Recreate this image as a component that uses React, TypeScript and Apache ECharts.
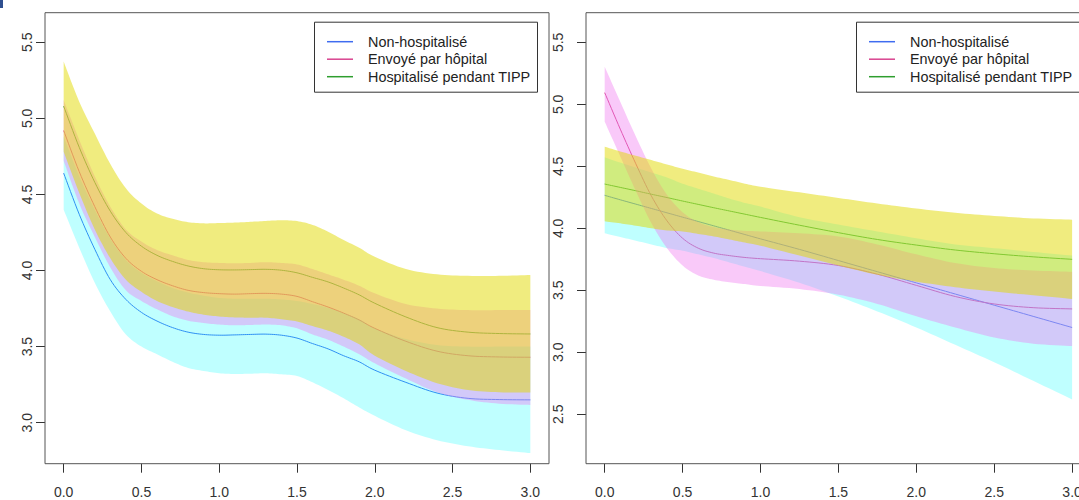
import React, { useEffect, useRef } from 'react';
import * as echarts from 'echarts';

// ---------- tick labels ----------
const xTicks = [0, 0.5, 1, 1.5, 2, 2.5, 3];
const leftYTicks = [3, 3.5, 4, 4.5, 5, 5.5];
const rightYTicks = [2.5, 3, 3.5, 4, 4.5, 5, 5.5];

const legendLabels = ['Non-hospitalisé', 'Envoyé par hôpital', 'Hospitalisé pendant TIPP'];

// ---------- left panel ----------
const leftT = [0, 0.1, 0.2, 0.3, 0.4, 0.5, 0.6, 0.7, 0.8, 0.9, 1.0, 1.1, 1.2, 1.3, 1.4, 1.5, 1.6, 1.7, 1.8, 1.9, 2.0, 2.2, 2.4, 2.6, 2.8, 3.0];

const leftNonHosp = [4.64, 4.37, 4.14, 3.94, 3.81, 3.725, 3.668, 3.625, 3.595, 3.58, 3.575, 3.577, 3.58, 3.582, 3.575, 3.556, 3.52, 3.485, 3.44, 3.40, 3.345, 3.265, 3.195, 3.16, 3.152, 3.15];
const leftNonHospLo = [4.40, 4.15, 3.92, 3.73, 3.58, 3.50, 3.45, 3.40, 3.36, 3.34, 3.325, 3.32, 3.322, 3.325, 3.318, 3.307, 3.265, 3.215, 3.16, 3.10, 3.045, 2.95, 2.885, 2.845, 2.82, 2.80];
const leftNonHospHi = [4.88, 4.62, 4.40, 4.21, 4.07, 3.985, 3.93, 3.885, 3.855, 3.835, 3.82, 3.815, 3.815, 3.815, 3.81, 3.80, 3.78, 3.755, 3.72, 3.68, 3.62, 3.55, 3.51, 3.50, 3.50, 3.50];

const leftSent = [4.92, 4.65, 4.42, 4.22, 4.08, 3.995, 3.94, 3.90, 3.87, 3.855, 3.848, 3.845, 3.848, 3.85, 3.845, 3.83, 3.795, 3.76, 3.72, 3.675, 3.62, 3.535, 3.47, 3.44, 3.432, 3.43];
const leftSentLo = [4.72, 4.44, 4.22, 4.02, 3.87, 3.80, 3.745, 3.70, 3.67, 3.655, 3.645, 3.64, 3.642, 3.645, 3.64, 3.62, 3.58, 3.545, 3.50, 3.45, 3.39, 3.29, 3.20, 3.15, 3.125, 3.117];
const leftSentHi = [5.12, 4.86, 4.62, 4.42, 4.27, 4.19, 4.135, 4.10, 4.07, 4.055, 4.05, 4.048, 4.05, 4.055, 4.05, 4.04, 4.01, 3.975, 3.94, 3.90, 3.85, 3.78, 3.75, 3.74, 3.74, 3.741];

const leftHosp = [5.08, 4.81, 4.58, 4.39, 4.25, 4.16, 4.10, 4.06, 4.03, 4.012, 4.005, 4.004, 4.006, 4.008, 4.002, 3.985, 3.955, 3.925, 3.885, 3.84, 3.785, 3.695, 3.625, 3.595, 3.586, 3.583];
const leftHospLo = [4.78, 4.51, 4.27, 4.08, 3.94, 3.86, 3.80, 3.76, 3.73, 3.71, 3.698, 3.692, 3.69, 3.69, 3.68, 3.665, 3.635, 3.605, 3.565, 3.515, 3.44, 3.34, 3.26, 3.215, 3.20, 3.198];
const leftHospHi = [5.373, 5.11, 4.90, 4.70, 4.54, 4.44, 4.375, 4.34, 4.318, 4.31, 4.312, 4.315, 4.32, 4.326, 4.33, 4.325, 4.30, 4.255, 4.20, 4.15, 4.09, 4.01, 3.975, 3.965, 3.965, 3.971];

// ---------- right panel ----------
const rightT = [0, 0.1, 0.2, 0.3, 0.4, 0.5, 0.6, 0.7, 0.8, 0.9, 1.0, 1.25, 1.5, 1.75, 2.0, 2.25, 2.5, 2.75, 3.0];

const rightNonHosp = [4.266, 4.23, 4.195, 4.16, 4.125, 4.09, 4.055, 4.02, 3.985, 3.95, 3.915, 3.83, 3.74, 3.65, 3.56, 3.47, 3.38, 3.29, 3.20];
const rightNonHospLo = [3.96, 3.93, 3.90, 3.87, 3.84, 3.82, 3.79, 3.76, 3.725, 3.69, 3.655, 3.56, 3.45, 3.33, 3.20, 3.06, 2.92, 2.77, 2.62];
const rightNonHospHi = [4.573, 4.53, 4.49, 4.45, 4.41, 4.36, 4.32, 4.28, 4.24, 4.205, 4.175, 4.09, 4.03, 3.975, 3.92, 3.87, 3.84, 3.81, 3.78];

const rightSent = [5.094, 4.80, 4.52, 4.26, 4.06, 3.92, 3.84, 3.80, 3.78, 3.765, 3.755, 3.735, 3.70, 3.63, 3.54, 3.45, 3.39, 3.36, 3.35];
const rightSentLo = [4.86, 4.58, 4.30, 4.04, 3.84, 3.70, 3.62, 3.585, 3.565, 3.55, 3.535, 3.51, 3.465, 3.39, 3.29, 3.20, 3.12, 3.07, 3.05];
const rightSentHi = [5.303, 5.02, 4.74, 4.48, 4.27, 4.13, 4.05, 4.01, 3.99, 3.98, 3.975, 3.96, 3.935, 3.87, 3.79, 3.72, 3.68, 3.66, 3.65];

const rightHosp = [4.357, 4.33, 4.303, 4.275, 4.248, 4.22, 4.193, 4.166, 4.14, 4.114, 4.088, 4.025, 3.965, 3.91, 3.865, 3.825, 3.795, 3.77, 3.75];
const rightHospLo = [4.056, 4.04, 4.021, 4.0, 3.983, 3.975, 3.955, 3.935, 3.91, 3.885, 3.86, 3.78, 3.70, 3.625, 3.57, 3.525, 3.49, 3.46, 3.43];
const rightHospHi = [4.658, 4.62, 4.585, 4.55, 4.515, 4.48, 4.45, 4.418, 4.39, 4.36, 4.335, 4.29, 4.245, 4.20, 4.16, 4.125, 4.10, 4.08, 4.07];

// ---------- styles ----------
const lineColors = ['#3f6cf0', '#d9438f', '#2e9e2e'];
const bandColors = ['rgba(0,255,255,0.25)', 'rgba(240,120,240,0.4)', 'rgba(225,218,0,0.5)'];
const FONT = '"Liberation Sans", Arial, Helvetica, sans-serif';

// Catmull-Rom smoothing of projected pixel points (rendering only)
function smoothPts(pts: number[][], seg = 8): number[][] {
  const out: number[][] = [];
  const n = pts.length;
  for (let i = 0; i < n - 1; i++) {
    const p0 = pts[i - 1] || pts[i];
    const p1 = pts[i];
    const p2 = pts[i + 1];
    const p3 = pts[i + 2] || pts[i + 1];
    for (let s = 0; s < seg; s++) {
      const t = s / seg;
      const t2 = t * t;
      const t3 = t2 * t;
      const f = (a: number, b: number, c: number, d: number) =>
        0.5 * (2 * b + (-a + c) * t + (2 * a - 5 * b + 4 * c - d) * t2 + (-a + 3 * b - 3 * c + d) * t3);
      out.push([f(p0[0], p1[0], p2[0], p3[0]), f(p0[1], p1[1], p2[1], p3[1])]);
    }
  }
  out.push(pts[n - 1]);
  return out;
}

function lineSeries(t: number[], v: number[], color: string, idx: number) {
  return {
    type: 'custom',
    coordinateSystem: 'cartesian2d',
    xAxisIndex: idx,
    yAxisIndex: idx,
    data: [[t[0], v[0]]],
    silent: true,
    z: 2,
    clip: false,
    renderItem: (_p: any, api: any) => {
      const pts = smoothPts(t.map((x, i) => api.coord([x, v[i]])));
      return {
        type: 'polyline',
        shape: { points: pts },
        style: { stroke: color, lineWidth: 1, fill: null },
      };
    },
  };
}

function bandSeries(t: number[], lo: number[], hi: number[], color: string, idx: number) {
  return {
    type: 'custom',
    coordinateSystem: 'cartesian2d',
    xAxisIndex: idx,
    yAxisIndex: idx,
    data: [[t[0], lo[0]]],
    silent: true,
    z: 3,
    clip: false,
    renderItem: (_p: any, api: any) => {
      const top = smoothPts(t.map((x, i) => api.coord([x, hi[i]])));
      const bot = smoothPts(t.map((x, i) => api.coord([x, lo[i]]))).reverse();
      return {
        type: 'polygon',
        shape: { points: top.concat(bot) },
        style: { fill: color, stroke: null },
      };
    },
  };
}

function xAxis(idx: number) {
  return {
    type: 'value',
    gridIndex: idx,
    min: -0.12,
    max: 3.12,
    axisLine: { show: false, onZero: false },
    splitLine: { show: false },
    axisTick: { show: true, length: 9, customValues: xTicks, lineStyle: { color: '#333', width: 1 } },
    axisLabel: {
      customValues: xTicks,
      formatter: (v: number) => v.toFixed(1),
      margin: 21,
      fontSize: 14,
      fontFamily: FONT,
      color: '#333',
    },
  };
}

function yAxis(idx: number, min: number, max: number, ticks: number[], margin: number) {
  return {
    type: 'value',
    gridIndex: idx,
    min,
    max,
    axisLine: { show: false, onZero: false },
    splitLine: { show: false },
    axisTick: { show: true, length: 9, customValues: ticks, lineStyle: { color: '#333', width: 1 } },
    axisLabel: {
      customValues: ticks,
      formatter: (v: number) => v.toFixed(1),
      rotate: 90,
      align: 'center',
      verticalAlign: 'middle',
      margin,
      fontSize: 14,
      fontFamily: FONT,
      color: '#333',
    },
  };
}

function legendGraphic(left: number, top: number) {
  const w = 223;
  const h = 70;
  const children: any[] = [
    {
      type: 'rect',
      shape: { x: left + 0.5, y: top + 0.5, width: w, height: h },
      style: { fill: '#fff', stroke: '#333', lineWidth: 1 },
    },
  ];
  legendLabels.forEach((label, i) => {
    const y = top + 20 + i * 17.5;
    children.push({
      type: 'line',
      shape: { x1: left + 13, y1: y, x2: left + 39, y2: y },
      style: { stroke: lineColors[i], lineWidth: 1.5 },
    });
    children.push({
      type: 'text',
      x: left + 54,
      y,
      style: {
        text: label,
        fontSize: 14.4,
        fontFamily: FONT,
        fill: '#222',
        align: 'left',
        verticalAlign: 'middle',
      },
    });
  });
  return { type: 'group', z: 100, children };
}

export default function App() {
  const ref = useRef<HTMLDivElement>(null);

  useEffect(() => {
    if (!ref.current) return;
    const chart = echarts.init(ref.current, undefined, { renderer: 'svg' });

    const series: any[] = [
      lineSeries(leftT, leftNonHosp, lineColors[0], 0),
      lineSeries(leftT, leftSent, lineColors[1], 0),
      lineSeries(leftT, leftHosp, lineColors[2], 0),
      bandSeries(leftT, leftNonHospLo, leftNonHospHi, bandColors[0], 0),
      bandSeries(leftT, leftSentLo, leftSentHi, bandColors[1], 0),
      bandSeries(leftT, leftHospLo, leftHospHi, bandColors[2], 0),
      lineSeries(rightT, rightNonHosp, lineColors[0], 1),
      lineSeries(rightT, rightSent, lineColors[1], 1),
      lineSeries(rightT, rightHosp, lineColors[2], 1),
      bandSeries(rightT, rightNonHospLo, rightNonHospHi, bandColors[0], 1),
      bandSeries(rightT, rightSentLo, rightSentHi, bandColors[1], 1),
      bandSeries(rightT, rightHospLo, rightHospHi, bandColors[2], 1),
    ];

    chart.setOption({
      animation: false,
      backgroundColor: '#ffffff',
      grid: [
        { left: 45, top: 12.7, width: 504, height: 451, show: true, borderColor: '#555', borderWidth: 1, backgroundColor: 'transparent', z: 10 },
        { left: 586, top: 12.7, width: 504.8, height: 451, show: true, borderColor: '#555', borderWidth: 1, backgroundColor: 'transparent', z: 10 },
      ],
      xAxis: [xAxis(0), xAxis(1)],
      yAxis: [
        yAxis(0, 2.7305, 5.6945, leftYTicks, 18.3),
        yAxis(1, 2.1016, 5.739, rightYTicks, 27.7),
      ],
      series,
      graphic: [
        { type: 'rect', shape: { x: 0, y: 0, width: 3, height: 8 }, style: { fill: '#2f4f8f' }, z: 100 },
        legendGraphic(314, 21.7),
        legendGraphic(856, 21.7),
      ],
    });

    return () => chart.dispose();
  }, []);

  return (
    <div
      style={{ position: 'absolute', left: 0, top: 0, width: 1079, height: 500, overflow: 'hidden', background: '#fff' }}
    >
      <div ref={ref} style={{ position: 'absolute', left: 0, top: 0, width: 1110, height: 500 }} />
    </div>
  );
}
